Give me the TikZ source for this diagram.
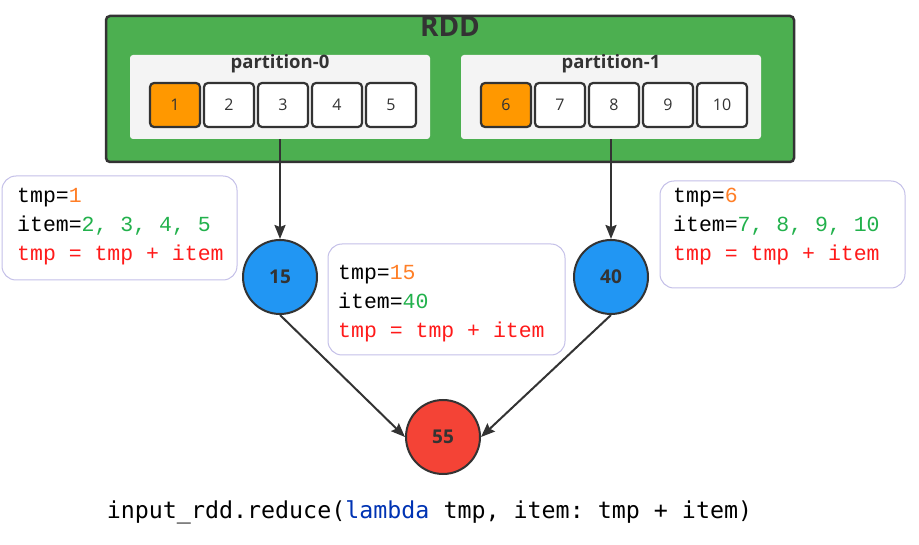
\documentclass[tikz,border=0pt]{standalone}
\usepackage{fontspec}
\setmainfont{Open Sans}
\newfontfamily\codefont{Liberation Mono}
\newfontfamily\callfont{DejaVu Sans Mono}
\usetikzlibrary{positioning,arrows.meta}
\frenchspacing

\definecolor{rddgreen}{HTML}{4CAF50}
\definecolor{partbg}{HTML}{F4F4F4}
\definecolor{cellorange}{HTML}{FF9800}
\definecolor{nodeblue}{HTML}{2196F3}
\definecolor{nodered}{HTML}{F44336}
\definecolor{darkline}{HTML}{333333}
\definecolor{boxborder}{HTML}{C4C0E8}
\definecolor{codeorange}{HTML}{FF7F27}
\definecolor{codegreen}{HTML}{22B14C}
\definecolor{codered}{HTML}{FF1A1A}
\definecolor{lambdablue}{HTML}{0033B3}

\tikzset{
  rdd/.style={draw=darkline, fill=rddgreen, line width=2.5pt, rounded corners=4pt},
  part/.style={fill=partbg, rounded corners=3pt, minimum width=300pt, minimum height=84pt},
  partlabel/.style={font=\bfseries\fontsize{18.5}{20}\selectfont, text=darkline},
  cell/.style={draw=darkline, fill=white, line width=2.2pt, rounded corners=4pt, outer sep=0pt,
    minimum width=50pt, minimum height=44pt, font=\fontsize{16}{18}\selectfont, text=darkline},
  first/.style={cell, fill=cellorange},
  result/.style={circle, draw=darkline, line width=2pt, minimum size=74pt,
    font=\bfseries\fontsize{19}{21}\selectfont, text=darkline},
  codebox/.style={draw=boxborder, fill=white, line width=1pt, rounded corners=14pt},
  codetext/.style={anchor=west, inner sep=0pt, align=left, font=\codefont\fontsize{21.5}{29}\selectfont},
  arrow/.style={draw=darkline, line width=2pt, -{Stealth[length=14pt, width=11pt, inset=2pt]}}
}

\begin{document}
\begin{tikzpicture}[x=1pt, y=-1pt]
  \useasboundingbox (0,0) rectangle (919,545);

  % RDD with its two partitions
  \node[rdd, minimum width=688pt, minimum height=146pt] (rdd) at (450,89) {};
  \node[font=\bfseries\fontsize{28}{30}\selectfont, text=darkline] (rddlabel) at (450,27) {RDD};

  \node[part] (part0) at (280,97) {};
  \node[partlabel] (label0) at (280,64) {partition-0};
  \node[part] (part1) at (611,97) {};
  \node[partlabel] (label1) at (611,64) {partition-1};

  % Cells
  \node[first] (c1) at (175,105) {1};
  \node[cell, right=4pt of c1] (c2) {2};
  \node[cell, right=4pt of c2] (c3) {3};
  \node[cell, right=4pt of c3] (c4) {4};
  \node[cell, right=4pt of c4] (c5) {5};

  \node[first] (c6) at (506,105) {6};
  \node[cell, right=4pt of c6] (c7) {7};
  \node[cell, right=4pt of c7] (c8) {8};
  \node[cell, right=4pt of c8] (c9) {9};
  \node[cell, right=4pt of c9] (c10) {10};

  % Results
  \node[result, fill=nodeblue] (n15) at (280,277) {15};
  \node[result, fill=nodeblue] (n40) at (611,277) {40};
  \node[result, fill=nodered] (n55) at (443,437) {55};

  % Arrows
  \draw[arrow] (part0.south) -- (n15);
  \draw[arrow] (part1.south) -- (n40);
  \draw[arrow] (n15.south) -- (n55.west);
  \draw[arrow] (n40.south) -- (n55.east);

  % Notes
  \node[codebox, minimum width=235pt, minimum height=104pt] (box0) at (119.5,228) {};
  \node[codetext] (note0) at (17,227) {tmp=\textcolor{codeorange}{1}\\
    item=\textcolor{codegreen}{2, 3, 4, 5}\\
    \textcolor{codered}{tmp = tmp + item}};

  \node[codebox, minimum width=237pt, minimum height=111pt] (box1) at (446.5,299.5) {};
  \node[codetext] (note1) at (338,304) {tmp=\textcolor{codeorange}{15}\\
    item=\textcolor{codegreen}{40}\\
    \textcolor{codered}{tmp = tmp + item}};

  \node[codebox, minimum width=245pt, minimum height=107pt] (box2) at (782.5,234.5) {};
  \node[codetext] (note2) at (673,227) {tmp=\textcolor{codeorange}{6}\\
    item=\textcolor{codegreen}{7, 8, 9, 10}\\
    \textcolor{codered}{tmp = tmp + item}};

  % Call
  \node[font=\callfont\fontsize{23.3}{28}\selectfont] (call) at (429.5,512)
    {input\_rdd.reduce(\textcolor{lambdablue}{lambda} tmp, item: tmp + item)};
\end{tikzpicture}
\end{document}
